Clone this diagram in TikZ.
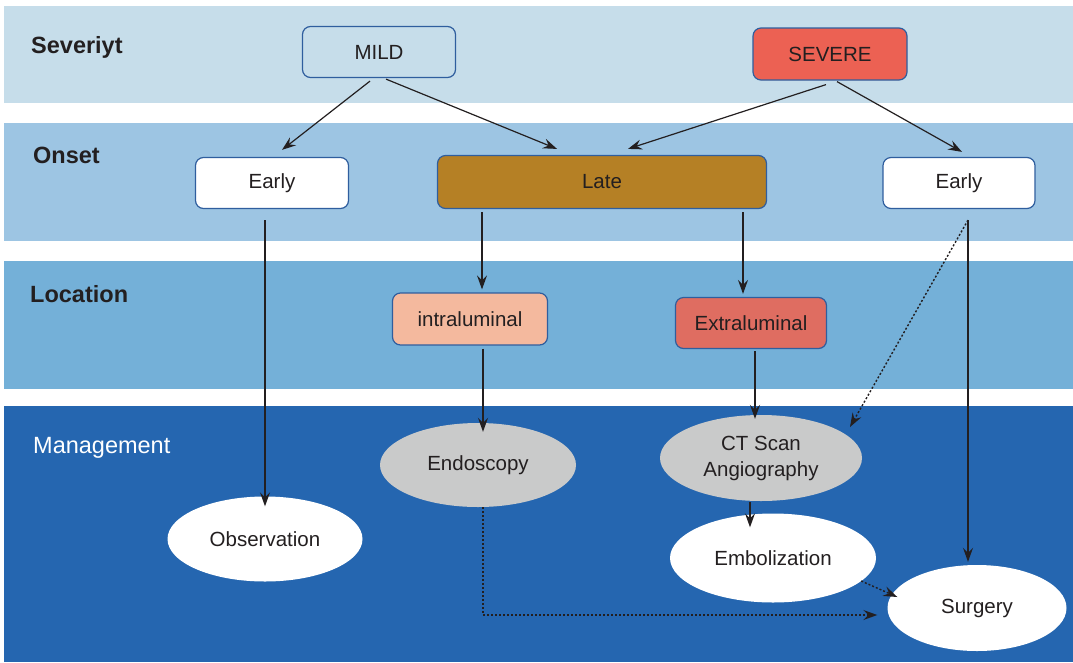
\documentclass[tikz,border=0pt]{standalone}
\usepackage{fontspec}
\setmainfont{Liberation Sans}
\usetikzlibrary{shapes.geometric,arrows.meta,calc}
\definecolor{bandA}{HTML}{C6DDEA}
\definecolor{bandB}{HTML}{9DC5E3}
\definecolor{bandC}{HTML}{74B0D8}
\definecolor{bandD}{HTML}{2566B0}
\definecolor{boxline}{HTML}{2F5E9E}
\definecolor{ink}{HTML}{231F20}
\definecolor{severe}{HTML}{EC6153}
\definecolor{late}{HTML}{B58025}
\definecolor{intra}{HTML}{F4B99E}
\definecolor{extra}{HTML}{DF6D61}
\definecolor{proc}{HTML}{C9CACA}
\begin{document}
\begin{tikzpicture}[x=1pt,y=-1pt,
  box/.style={draw=boxline, line width=1.2pt, rounded corners=8pt,
    minimum height=51pt, inner sep=0pt, text=ink,
    font=\fontsize{20.5}{25}\selectfont},
  oval/.style={ellipse, inner sep=0pt, text=ink, align=center,
    font=\fontsize{20.5}{26}\selectfont},
  band/.style={font=\bfseries\fontsize{23.5}{28}\selectfont, text=ink, anchor=base west, inner sep=0pt},
  arr/.style={draw=ink, line width=1.2pt, -{Stealth[length=14pt,width=10pt,inset=5pt]}},
  dotarr/.style={arr, line width=1.4pt, dash pattern=on 2pt off 2pt}
]
\useasboundingbox (0,0) rectangle (1073,662);
\fill[white] (0,0) rectangle (1073,662);

% horizontal bands
\fill[bandA] (4,6) rectangle (1073,103);
\fill[bandB] (4,123) rectangle (1073,241);
\fill[bandC] (4,261) rectangle (1073,389);
\fill[bandD] (4,406) rectangle (1073,662);

% band titles
\node[band] (tSev) at (31,53) {Severiyt};
\node[band] (tOns) at (33,163) {Onset};
\node[band] (tLoc) at (30,302) {Location};
\node[band, font=\fontsize{23.5}{28}\selectfont, text=white] (tMan) at (33,453) {Management};

% severity
\node[box, fill=bandA, minimum width=153pt] (mild) at (379,52) {MILD};
\node[box, fill=severe, minimum width=154pt, minimum height=52pt] (sev) at (830,54) {SEVERE};

% onset
\node[box, fill=white, minimum width=153pt] (earlyL) at (272,183) {Early};
\node[box, fill=late, minimum width=329pt, minimum height=53pt] (late) at (602,182) {Late};
\node[box, fill=white, minimum width=152pt] (earlyR) at (959,183) {Early};

% location
\node[box, fill=intra, minimum width=155pt, minimum height=52pt] (intra) at (470,319) {intraluminal};
\node[box, fill=extra, minimum width=151pt] (extra) at (751,323) {Extraluminal};

% management
\node[oval, fill=proc, minimum width=196pt, minimum height=84pt] (endo) at (478,465) {Endoscopy};
\node[oval, fill=proc, minimum width=202pt, minimum height=86pt] (ct) at (761,458) {CT Scan\\Angiography};
\node[oval, fill=white, minimum width=195pt, minimum height=85pt] (obs) at (265,539) {Observation};
\node[oval, fill=white, minimum width=206pt, minimum height=89pt] (emb) at (773,558) {Embolization};
\node[oval, fill=white, minimum width=179pt, minimum height=86pt] (surg) at (977,608) {Surgery};

% connectors
\draw[arr] ($(mild.south)+(-9,3)$) -- ($(earlyL.north)+(10,-7)$);
\draw[arr] ($(mild.south)+(7,1)$) -- ($(late.north)+(-45,-6)$);
\draw[arr] ($(sev.south)+(-4,4)$) -- ($(late.north)+(26,-6)$);
\draw[arr] ($(sev.south)+(7,1)$) -- ($(earlyR.north)+(3,-5)$);

\draw[arr] ($(earlyL.south)+(-7,11)$) -- ($(obs.north)+(0,10)$);
\draw[arr] ($(late.south)+(-120,3)$) -- ($(intra.north)+(12,-3)$);
\draw[arr] ($(late.south)+(141,3)$) -- ($(extra.north)+(-8,-3)$);
\draw[arr] ($(intra.south)+(13,3)$) -- ($(endo.north)+(5,9)$);
\draw[arr] ($(extra.south)+(4,2)$) -- ($(ct.north)+(-6,4)$);
\draw[arr] ($(ct.south)+(-11,1)$) -- ($(emb.north)+(-23,14)$);
\draw[arr] ($(earlyR.south)+(9,11)$) -- ($(surg.north)+(-9,-3)$);

\draw[dotarr] ($(earlyR.south)+(9,11)$) -- ($(ct.center)+(89,-31)$);
\draw[dotarr] ($(endo.south)+(5,0)$) |- ($(surg.west)+(-10,7)$);
\draw[dotarr] ($(emb.east)+(-15,23)$) -- ($(surg.west)+(10,-11)$);
\end{tikzpicture}
\end{document}
